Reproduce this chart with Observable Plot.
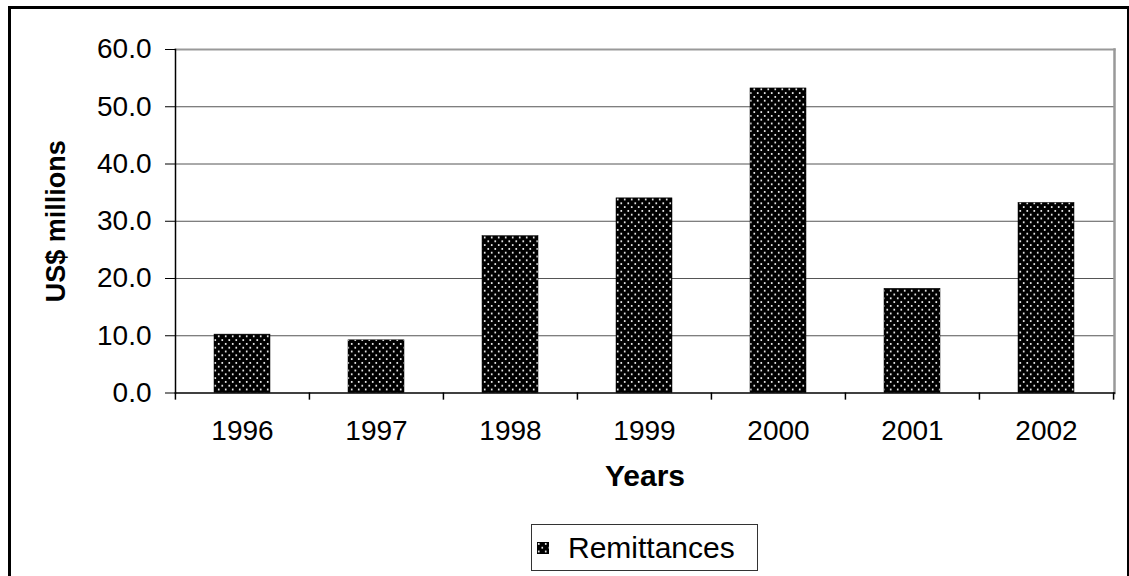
<!DOCTYPE html>
<html>
<head>
<meta charset="utf-8">
<script src="https://cdn.jsdelivr.net/npm/d3@7"></script>
<script src="https://cdn.jsdelivr.net/npm/@observablehq/plot@0.6"></script>
<style>
  html, body { margin: 0; padding: 0; background: #fff; overflow: hidden; }
  #wrap { position: relative; width: 1129px; height: 576px; }
  #border { position: absolute; left: 8px; top: 6px; width: 1116px; height: 620px;
            border-left: 3px solid #000; border-top: 3px solid #000; border-right: 3px solid #000; pointer-events: none; }
  #chart { position: absolute; left: 0; top: 0; }
  #legend { position: absolute; left: 531px; top: 524px; width: 227px; height: 47px;
            border: 1.5px solid #333; box-sizing: border-box; display: flex; align-items: center;
            font-family: "Liberation Sans", Arial, sans-serif; font-size: 30px; color: #000; }
  #legend svg { margin-left: 5px; margin-right: 19px; }
</style>
</head>
<body>
<div id="wrap">
  <div id="chart"></div>
  <div id="legend"><svg width="12" height="12"><defs><pattern id="ldots" width="7" height="7.6" patternUnits="userSpaceOnUse"><rect width="7" height="7.6" fill="#000"/><circle cx="1.75" cy="1.9" r="1" fill="#fff"/><circle cx="5.25" cy="5.7" r="1" fill="#fff"/></pattern></defs><rect width="12" height="12" fill="url(#ldots)" stroke="#000" stroke-width="0.5"/></svg><span id="legendText"></span></div>
  <div id="border"></div>
</div>
<script>
const years = ["1996", "1997", "1998", "1999", "2000", "2001", "2002"];
const remittances = [10.2, 9.2, 27.4, 34.0, 53.2, 18.2, 33.2];
const yTicks = [0, 10, 20, 30, 40, 50, 60];
const seriesName = "Remittances";
const xTitle = "Years";
const yTitle = "US$ millions";

const data = years.map((year, i) => ({year, value: remittances[i]}));

const W = 1129, H = 515, mL = 175, mR = 15, mT = 49, mB = 122.5;
const step = (W - mL - mR) / years.length;

const plot = Plot.plot({
  width: W, height: H,
  marginLeft: mL, marginRight: mR, marginTop: mT, marginBottom: mB,
  style: {fontFamily: "'Liberation Sans', Arial, sans-serif", fontSize: "28px", color: "#000", background: "transparent", overflow: "visible"},
  x: {domain: years, paddingInner: 0.58, paddingOuter: 0.29},
  y: {domain: [0, 60]},
  marks: [
    Plot.gridY(yTicks.slice(1, -1), {stroke: "#555", strokeOpacity: 1, strokeWidth: 1}),
    Plot.frame({anchor: "top", stroke: "#999", strokeWidth: 2}),
    Plot.frame({anchor: "right", stroke: "#999", strokeWidth: 2.5}),
    Plot.barY(data, {x: "year", y: "value", fill: "url(#dots)", stroke: "#000", strokeWidth: 0.5}),
    Plot.frame({anchor: "left", stroke: "#000", strokeWidth: 1.5}),
    Plot.frame({anchor: "bottom", stroke: "#000", strokeWidth: 1.5}),
    Plot.ruleX(years, {x: d => d, y1: 0, y2: -1.25, dx: -step / 2, stroke: "#000", strokeWidth: 1.5}),
    Plot.ruleX(years.slice(-1), {x: d => d, y1: 0, y2: -1.25, dx: step / 2, stroke: "#000", strokeWidth: 1.5}),
    Plot.axisY(yTicks, {tickSize: 10, tickPadding: 14, tickFormat: d => d.toFixed(1), label: null, stroke: "#000", fontSize: 28}),
    Plot.axisX({tickSize: 0, tickPadding: 27, label: null, fontSize: 28}),
    Plot.text([yTitle], {text: d => d, frameAnchor: "left", textAnchor: "middle", rotate: -90, dx: -119, fontWeight: "bold", fontSize: 27}),
    Plot.text([xTitle], {text: d => d, frameAnchor: "bottom", textAnchor: "middle", dy: 93, fontWeight: "bold", fontSize: 30})
  ]
});

d3.select(plot).insert("defs", ":first-child").html(
  '<pattern id="dots" width="7" height="7.6" patternUnits="userSpaceOnUse">' +
  '<rect width="7" height="7.6" fill="#000"/>' +
  '<circle cx="1.75" cy="1.9" r="1" fill="#fff"/>' +
  '<circle cx="5.25" cy="5.7" r="1" fill="#fff"/></pattern>'
);

document.getElementById("chart").appendChild(plot);
document.getElementById("legendText").textContent = seriesName;
</script>
</body>
</html>
